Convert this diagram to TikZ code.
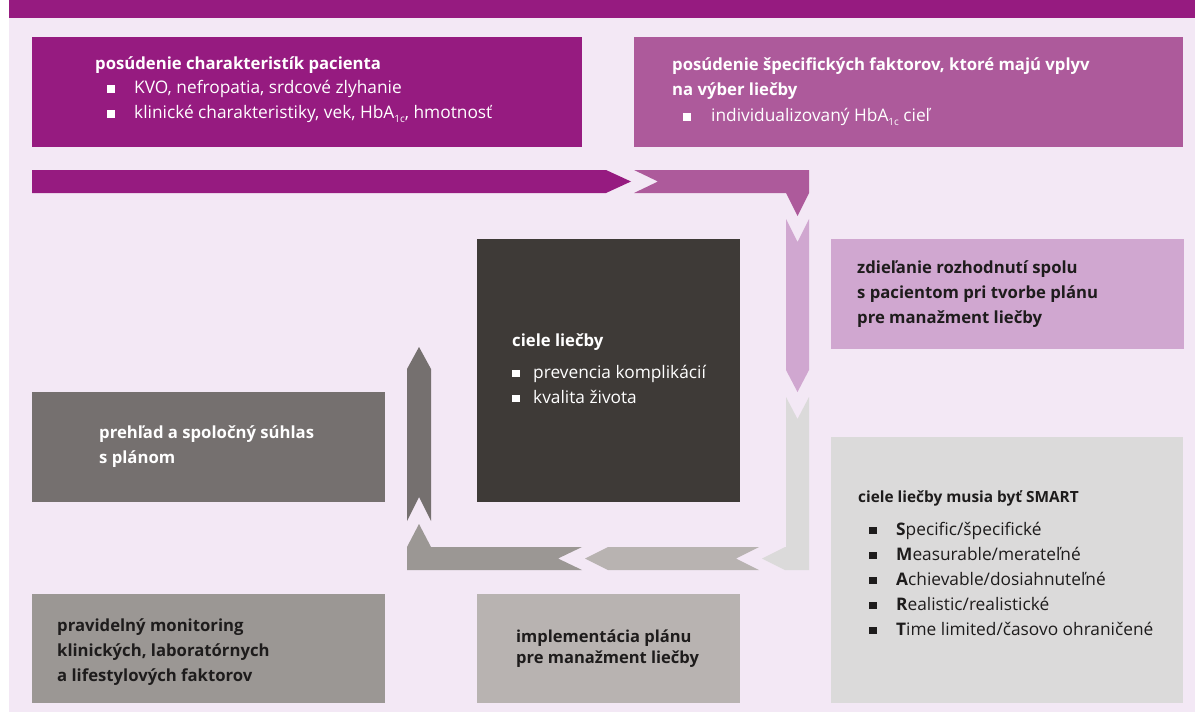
\documentclass[tikz,border=0pt]{standalone}
\usepackage{fontspec}
\setmainfont{Open Sans}
\usetikzlibrary{positioning}
\definecolor{pDark}{HTML}{961B80}
\definecolor{pMid}{HTML}{AD5A9B}
\definecolor{pLight}{HTML}{D0A7D0}
\definecolor{lav}{HTML}{F3E8F5}
\definecolor{gDark}{HTML}{3E3A37}
\definecolor{gMid}{HTML}{75706F}
\definecolor{gStone}{HTML}{9B9794}
\definecolor{gPale}{HTML}{B8B3B1}
\definecolor{gLight}{HTML}{DBDADA}
\definecolor{ink}{HTML}{1E1C1C}
\newcommand{\sq}{\rule[1pt]{7.5pt}{7.5pt}}
\newcommand{\hbsub}[1]{\raisebox{-3.5pt}{\fontsize{10}{10}\selectfont #1}}
\newcommand{\ttl}[1]{{\fontsize{16.7}{25}\selectfont\bfseries #1}}
\begin{document}
\begin{tikzpicture}[x=1pt,y=-1pt,
  box/.style={anchor=north west,inner sep=0pt,outer sep=0pt},
  txt/.style={anchor=west,align=left,inner sep=0pt,font=\fontsize{17.3}{25}\selectfont},
  btxt/.style={txt,font=\fontsize{16.7}{25}\selectfont\bfseries}]
\useasboundingbox (0,0) rectangle (1195,712);
\fill[pDark] (9,0) rectangle (1195,18);
\fill[lav] (9,18) rectangle (1195,712);
\node[box,fill=pDark,minimum width=550pt,minimum height=110pt] (patient) at (32,37) {};
\node[box,fill=pMid,minimum width=549pt,minimum height=110pt] (factors) at (634,37) {};
\node[box,fill=pLight,minimum width=353pt,minimum height=110pt] (shared) at (831,239) {};
\node[box,fill=gDark,minimum width=263pt,minimum height=263pt] (goals) at (477,239) {};
\node[box,fill=gMid,minimum width=353pt,minimum height=110pt] (review) at (32,392) {};
\node[box,fill=gLight,minimum width=352pt,minimum height=266pt] (smart) at (831,437) {};
\node[box,fill=gStone,minimum width=353pt,minimum height=109pt] (monitor) at (32,594) {};
\node[box,fill=gPale,minimum width=263pt,minimum height=109pt] (implement) at (477,594) {};
\node[txt,white,yshift=2pt] (patientT) at ([xshift=63pt]patient.west)
  {\ttl{posúdenie charakteristík pacienta}\\[-1pt]
   \hspace*{12pt}\sq\hspace{19.5pt}KVO, nefropatia, srdcové zlyhanie\\
   \hspace*{12pt}\sq\hspace{19.5pt}klinické charakteristiky, vek, HbA\hbsub{1c}, hmotnosť};
\node[txt,white] (factorsT) at ([xshift=38pt]factors.west)
  {\ttl{posúdenie špecifických faktorov, ktoré majú vplyv}\\
   \ttl{na výber liečby}\\[1pt]
   \hspace*{11pt}\sq\hspace{20.5pt}individualizovaný HbA\hbsub{1c} cieľ};
\node[btxt,ink] (sharedT) at ([xshift=26pt]shared.west)
  {zdieľanie rozhodnutí spolu\\ s pacientom pri tvorbe plánu\\ pre manažment liečby};
\node[txt,white,yshift=2pt] (goalsT) at ([xshift=35pt]goals.west)
  {\ttl{ciele liečby}\\[7pt]
   \sq\hspace{13.5pt}prevencia komplikácií\\
   \sq\hspace{13.5pt}kvalita života};
\node[btxt,white] (reviewT) at ([xshift=67pt]review.west)
  {prehľad a spoločný súhlas\\ s plánom};
\node[txt,ink,yshift=7pt] (smartT) at ([xshift=27pt]smart.west)
  {{\fontsize{15.4}{25}\selectfont\bfseries ciele liečby musia byť SMART}\\[8pt]
   \hspace*{11pt}\sq\hspace{19.5pt}\textbf{S}pecific/špecifické\\
   \hspace*{11pt}\sq\hspace{19.5pt}\textbf{M}easurable/merateľné\\
   \hspace*{11pt}\sq\hspace{19.5pt}\textbf{A}chievable/dosiahnuteľné\\
   \hspace*{11pt}\sq\hspace{19.5pt}\textbf{R}ealistic/realistické\\
   \hspace*{11pt}\sq\hspace{19.5pt}\textbf{T}ime limited/časovo ohraničené};
\node[btxt,ink,yshift=-4pt] (monitorT) at ([xshift=25pt]monitor.west)
  {pravidelný monitoring\\ klinických, laboratórnych\\ a lifestylových faktorov};
\node[btxt,ink,font=\fontsize{16.5}{21}\selectfont\bfseries] (implementT) at ([xshift=39pt]implement.west)
  {implementácia plánu\\ pre manažment liečby};
\fill[pDark] (32,170) -- (606,170) -- (631,181.5) -- (606,193) -- (32,193) -- cycle;
\fill[pMid] (634,170) -- (809,170) -- (809,193) -- (797.5,216) -- (786,193) -- (634,193) -- (658,181.5) -- cycle;
\fill[pLight] (786,219) -- (797.5,242) -- (809,219) -- (809,370) -- (797.5,392) -- (786,370) -- cycle;
\fill[gLight] (786,397) -- (797.5,419) -- (809,397) -- (809,570) -- (785,570) -- (762,558.5) -- (785,547) -- (786,547) -- cycle;
\fill[gPale] (759,547) -- (736,558.5) -- (759,570) -- (608,570) -- (585,558.5) -- (608,547) -- cycle;
\fill[gStone] (582,547) -- (558,558.5) -- (582,570) -- (407,570) -- (407,547) -- (419,524) -- (431,547) -- cycle;
\fill[gMid] (407,521) -- (419,497) -- (431,521) -- (431,369) -- (419,347) -- (407,369) -- cycle;
\end{tikzpicture}
\end{document}
